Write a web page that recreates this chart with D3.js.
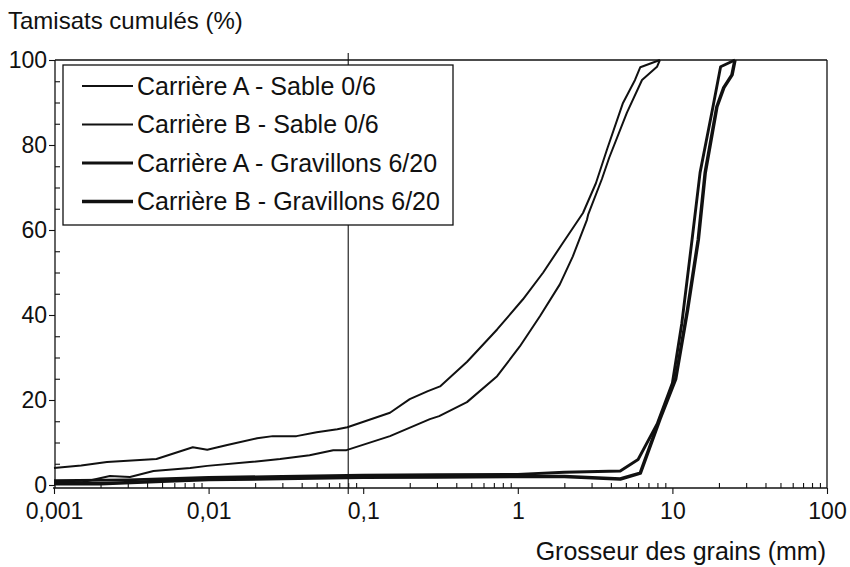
<!DOCTYPE html>
<html><head><meta charset="utf-8">
<script src="https://cdn.jsdelivr.net/npm/d3@7/dist/d3.min.js"></script>
<style>html,body{margin:0;padding:0;background:#fff}svg{display:block}text{font-family:"Liberation Sans",Arial,Helvetica,sans-serif;fill:#111}</style>
</head><body><svg id="c" width="850" height="567"></svg>
<script>
// ---- data (grain size in mm, cumulative passing in %) ----
const seriesNames = ["Carrière A - Sable 0/6","Carrière B - Sable 0/6","Carrière A - Gravillons 6/20","Carrière B - Gravillons 6/20"];
const sandA = [[0.001,4.0],[0.0015,4.6],[0.0022,5.4],[0.0046,6.1],[0.0079,8.9],[0.0098,8.3],[0.0132,9.4],[0.0206,11.0],[0.026,11.5],[0.037,11.5],[0.05,12.4],[0.068,13.1],[0.079,13.6],[0.149,17.0],[0.2,20.2],[0.262,22.1],[0.314,23.2],[0.47,29],[0.735,36.6],[1.08,43.7],[1.46,50],[1.96,57],[2.64,64],[3.2,71],[3.78,79],[4.79,89.9],[5.73,95.3],[6.2,98.3],[8.3,100]];
const sandB = [[0.001,0.3],[0.00154,0.7],[0.0023,2.1],[0.0031,1.9],[0.0044,3.3],[0.0076,4.0],[0.0098,4.5],[0.0185,5.4],[0.029,6.1],[0.045,7.0],[0.064,8.2],[0.078,8.2],[0.149,11.5],[0.27,15.5],[0.31,16.2],[0.469,19.5],[0.735,25.6],[1.03,32.6],[1.39,39.7],[1.87,47.2],[2.27,53.8],[2.8,62.4],[2.85,63.6],[3.5,72],[3.9,77],[5.08,87.6],[6.36,95.3],[7.95,98.4],[8.3,100]];
const gravelA = [[0.001,1.0],[0.003,1.2],[0.01,1.8],[0.03,2.0],[0.1,2.3],[0.3,2.4],[1,2.5],[2,3.0],[4.6,3.3],[6.0,6.0],[8.0,14.5],[10,24],[11.5,38],[13.4,57.7],[15.1,73.5],[18.3,89],[20.5,98.4],[25.4,100]];
const gravelB = [[0.001,0.3],[0.002,0.3],[0.005,0.9],[0.01,1.3],[0.03,1.5],[0.1,1.8],[0.3,1.9],[1,2.0],[2,2.0],[4.6,1.4],[6.2,2.8],[8.3,15.5],[10.5,25],[12.5,41],[14.7,57.7],[16.3,73.5],[19.4,89],[21.5,93.5],[24.3,96.5],[25.4,100]];
const seriesData = [sandA, sandB, gravelA, gravelB];
const xTickValues = [0.001,0.01,0.1,1,10,100];
const xTickLabels = ["0,001","0,01","0,1","1","10","100"];
const yTickValues = [0,20,40,60,80,100];
const markerSize = 0.08; // vertical reference line (mm)

// ---- layout ----
const svg = d3.select("#c");
const x = d3.scaleLog().domain([0.001,100]).range([54,827]);
const y = d3.scaleLinear().domain([0,100]).range([485,60]);
const axisY = 488, axisX = 55;
const widths = [2,2,2.9,3.5];

// frame (top + right)
svg.append("line").attr("x1",axisX).attr("x2",827).attr("y1",60).attr("y2",60).attr("stroke","#111").attr("stroke-width",1.3);
svg.append("line").attr("x1",827).attr("x2",827).attr("y1",60).attr("y2",axisY).attr("stroke","#111").attr("stroke-width",1.3);

// x axis
const minorX = [];
for (let e=-3;e<2;e++) for (let m=2;m<10;m++) minorX.push(m*Math.pow(10,e));
const gx = svg.append("g").attr("transform",`translate(0,${axisY})`);
gx.call(d3.axisBottom(x).tickValues(xTickValues).tickFormat((d,i)=>xTickLabels[i]).tickSizeInner(6).tickSizeOuter(0).tickPadding(9));
gx.append("g").call(d3.axisTop(x).tickValues(minorX).tickFormat("").tickSize(5).tickSizeOuter(0)).select(".domain").remove();
gx.selectAll("path.domain").attr("stroke","#111").attr("stroke-width",1.3).attr("d",`M53,0H827`);
gx.selectAll("line").attr("stroke","#111").attr("stroke-width",1.1);
gx.selectAll("text").style("font-size","23px").attr("fill","#111");

// y axis
const gy = svg.append("g").attr("transform",`translate(${axisX},0)`);
gy.call(d3.axisLeft(y).tickValues(yTickValues).tickSizeInner(6).tickSizeOuter(0).tickPadding(2));
gy.append("g").call(d3.axisRight(y).tickValues(d3.range(5,100,5).filter(v=>v%20!==0)).tickFormat("").tickSize(5).tickSizeOuter(0)).select(".domain").remove();
gy.selectAll("path.domain").attr("stroke","#111").attr("stroke-width",1.3).attr("d",`M0,60V${axisY}`);
gy.selectAll("line").attr("stroke","#111").attr("stroke-width",1.1);
gy.selectAll("text").style("font-size","23px").attr("fill","#111");

// vertical reference line at 0.08 mm
svg.append("line").attr("x1",x(markerSize)).attr("x2",x(markerSize)).attr("y1",53).attr("y2",axisY+6).attr("stroke","#111").attr("stroke-width",1.1);

// curves
const line = d3.line().x(d=>x(d[0])).y(d=>y(d[1]));
seriesData.forEach((s,i)=>{
  svg.append("path").datum(s).attr("d",line).attr("fill","none").attr("stroke","#111").attr("stroke-width",widths[i]).attr("stroke-linejoin","round");
});

// legend
const lg = svg.append("g");
lg.append("rect").attr("x",63).attr("y",65).attr("width",390).attr("height",160).attr("fill","#fff").attr("stroke","#111").attr("stroke-width",1.3);
seriesNames.forEach((n,i)=>{
  const cy = 86 + i*38.5;
  lg.append("line").attr("x1",82).attr("x2",133).attr("y1",cy).attr("y2",cy).attr("stroke","#111").attr("stroke-width",widths[i]);
  lg.append("text").attr("x",137).attr("y",cy).attr("dy","0.35em").style("font-size","25px").text(n);
});

// titles
svg.append("text").attr("x",8).attr("y",29).style("font-size","24px").text("Tamisats cumulés (%)");
svg.append("text").attr("x",826).attr("y",560).attr("text-anchor","end").style("font-size","25px").text("Grosseur des grains (mm)");
</script></body></html>
